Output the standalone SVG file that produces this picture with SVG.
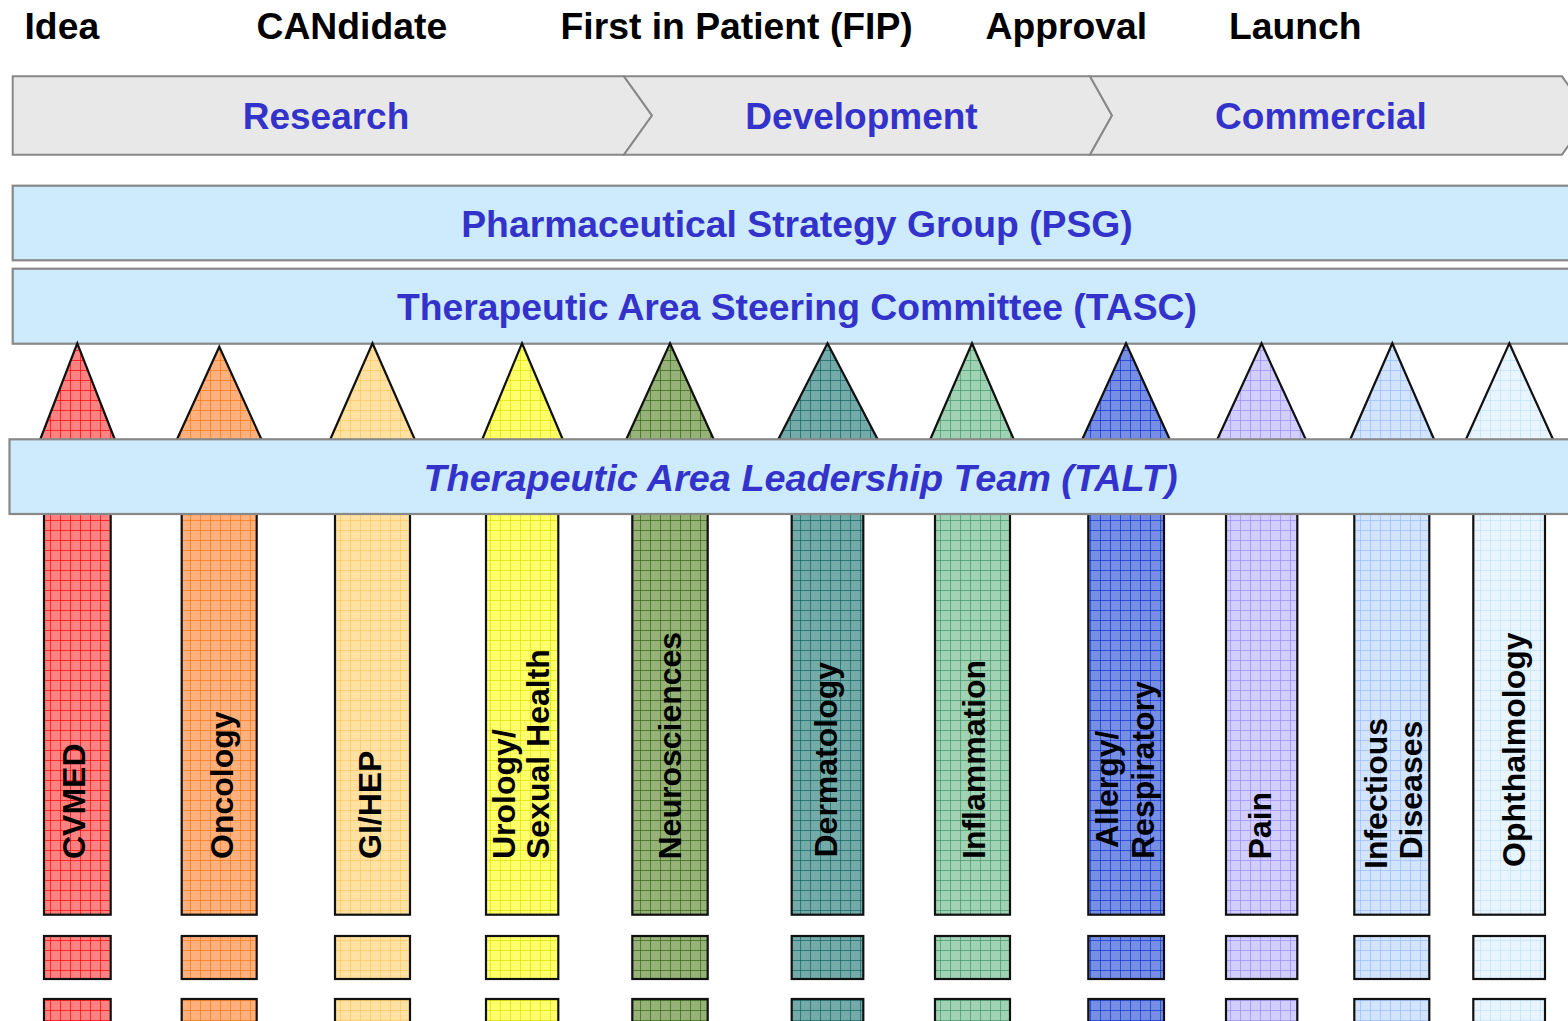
<svg xmlns="http://www.w3.org/2000/svg" width="1568" height="1021" viewBox="0 0 1568 1021">
<style>
.top{font-family:"Liberation Sans",Arial,sans-serif;font-weight:bold;font-size:37.3px;fill:#000}
.phase{font-family:"Liberation Sans",Arial,sans-serif;font-weight:bold;font-size:37px;fill:#3333cc;text-anchor:middle}
.band{font-family:"Liberation Sans",Arial,sans-serif;font-weight:bold;font-size:37.3px;fill:#3333cc;text-anchor:middle}
.talt{font-style:italic;font-size:37.8px}
.chev{fill:#e8e8e8;stroke:#888;stroke-width:2}
.box{fill:#cdebfc;stroke:#888;stroke-width:2.2}
.cr{stroke:#111;stroke-width:2.2}
.lbl{font-family:"Liberation Sans",Arial,sans-serif;font-weight:bold;font-size:32px;fill:#000}
.gl{stroke-width:1;stroke-opacity:0.7;fill:none}
</style>
<defs>
<pattern id="p1" width="10" height="10" patternUnits="userSpaceOnUse"><rect width="10" height="10" fill="#ff8282"/><path class="gl" d="M0 0.5H10M0.5 0V10" stroke="#ff0000"/></pattern>
<pattern id="p2" width="10" height="10" patternUnits="userSpaceOnUse"><rect width="10" height="10" fill="#ffb07c"/><path class="gl" d="M0 0.5H10M0.5 0V10" stroke="#ff7a10"/></pattern>
<pattern id="p3" width="10" height="10" patternUnits="userSpaceOnUse"><rect width="10" height="10" fill="#ffe1a4"/><path class="gl" d="M0 0.5H10M0.5 0V10" stroke="#ffc65a"/></pattern>
<pattern id="p4" width="10" height="10" patternUnits="userSpaceOnUse"><rect width="10" height="10" fill="#ffff6c"/><path class="gl" d="M0 0.5H10M0.5 0V10" stroke="#e0e000"/></pattern>
<pattern id="p5" width="10" height="10" patternUnits="userSpaceOnUse"><rect width="10" height="10" fill="#96b278"/><path class="gl" d="M0 0.5H10M0.5 0V10" stroke="#336614"/></pattern>
<pattern id="p6" width="10" height="10" patternUnits="userSpaceOnUse"><rect width="10" height="10" fill="#74aaa7"/><path class="gl" d="M0 0.5H10M0.5 0V10" stroke="#126666"/></pattern>
<pattern id="p7" width="10" height="10" patternUnits="userSpaceOnUse"><rect width="10" height="10" fill="#a2d2b4"/><path class="gl" d="M0 0.5H10M0.5 0V10" stroke="#40986c"/></pattern>
<pattern id="p8" width="10" height="10" patternUnits="userSpaceOnUse"><rect width="10" height="10" fill="#768ee4"/><path class="gl" d="M0 0.5H10M0.5 0V10" stroke="#1034d2"/></pattern>
<pattern id="p9" width="10" height="10" patternUnits="userSpaceOnUse"><rect width="10" height="10" fill="#d2ceff"/><path class="gl" d="M0 0.5H10M0.5 0V10" stroke="#9c8eff"/></pattern>
<pattern id="p10" width="10" height="10" patternUnits="userSpaceOnUse"><rect width="10" height="10" fill="#d2e4ff"/><path class="gl" d="M0 0.5H10M0.5 0V10" stroke="#98bcff"/></pattern>
<pattern id="p11" width="10" height="10" patternUnits="userSpaceOnUse"><rect width="10" height="10" fill="#e8f5ff"/><path class="gl" d="M0 0.5H10M0.5 0V10" stroke="#c0e2fa"/></pattern>
</defs>
<rect width="1568" height="1021" fill="#fff"/>

<g id="milestones">
<text class="top" x="24.5" y="39">Idea</text>
<text class="top" x="256.5" y="39">CANdidate</text>
<text class="top" x="560.5" y="39">First in Patient (FIP)</text>
<text class="top" x="985.5" y="39">Approval</text>
<text class="top" x="1229" y="39">Launch</text>
</g>

<g id="phase-research">
<polygon class="chev" points="12.7,76.3 624,76.3 652,115.5 624,154.7 12.7,154.7"/>
<text class="phase" x="326" y="129">Research</text>
</g>
<g id="phase-development">
<polygon class="chev" points="624,76.3 1090,76.3 1112,115.5 1090,154.7 624,154.7 652,115.5"/>
<text class="phase" x="861.5" y="129">Development</text>
</g>
<g id="phase-commercial">
<polygon class="chev" points="1090,76.3 1562,76.3 1590,115.5 1562,154.7 1090,154.7 1112,115.5"/>
<text class="phase" x="1321" y="129">Commercial</text>
</g>

<g id="psg">
<rect class="box" x="12.7" y="185.7" width="1570" height="74.6"/>
<text class="band" x="797" y="237">Pharmaceutical Strategy Group (PSG)</text>
</g>
<g id="tasc">
<rect class="box" x="12.7" y="268.7" width="1570" height="75"/>
<text class="band" x="797" y="320">Therapeutic Area Steering Committee (TASC)</text>
</g>

<g id="crayon-cvmed">
<polygon class="cr" fill="url(#p1)" points="77.3,343.3 115,440 40,440"/>
<rect class="cr" fill="url(#p1)" x="44" y="505" width="66.7" height="409.7"/>
<text class="lbl" transform="translate(85,859) rotate(-90)">CVMED</text>
<rect class="cr" fill="url(#p1)" x="44" y="936" width="66.7" height="43"/>
<rect class="cr" fill="url(#p1)" x="44" y="999" width="66.7" height="40"/>
</g>
<g id="crayon-oncology">
<polygon class="cr" fill="url(#p2)" points="219.3,346.7 261.7,440 176.7,440"/>
<rect class="cr" fill="url(#p2)" x="181.7" y="505" width="75" height="409.7"/>
<text class="lbl" transform="translate(232.5,859) rotate(-90)">Oncology</text>
<rect class="cr" fill="url(#p2)" x="181.7" y="936" width="75" height="43"/>
<rect class="cr" fill="url(#p2)" x="181.7" y="999" width="75" height="40"/>
</g>
<g id="crayon-gihep">
<polygon class="cr" fill="url(#p3)" points="372.5,343.3 415,440 330,440"/>
<rect class="cr" fill="url(#p3)" x="335" y="505" width="75" height="409.7"/>
<text class="lbl" transform="translate(381,859) rotate(-90)">GI/HEP</text>
<rect class="cr" fill="url(#p3)" x="335" y="936" width="75" height="43"/>
<rect class="cr" fill="url(#p3)" x="335" y="999" width="75" height="40"/>
</g>
<g id="crayon-urology">
<polygon class="cr" fill="url(#p4)" points="522,343.3 563,440 482,440"/>
<rect class="cr" fill="url(#p4)" x="486" y="505" width="72.3" height="409.7"/>
<text class="lbl" transform="translate(515,859) rotate(-90)">Urology/</text>
<text class="lbl" transform="translate(549.3,859) rotate(-90)">Sexual Health</text>
<rect class="cr" fill="url(#p4)" x="486" y="936" width="72.3" height="43"/>
<rect class="cr" fill="url(#p4)" x="486" y="999" width="72.3" height="40"/>
</g>
<g id="crayon-neurosciences">
<polygon class="cr" fill="url(#p5)" points="670,343.3 714,440 626,440"/>
<rect class="cr" fill="url(#p5)" x="632.3" y="505" width="75.4" height="409.7"/>
<text class="lbl" transform="translate(680.7,859.5) rotate(-90)">Neurosciences</text>
<rect class="cr" fill="url(#p5)" x="632.3" y="936" width="75.4" height="43"/>
<rect class="cr" fill="url(#p5)" x="632.3" y="999" width="75.4" height="40"/>
</g>
<g id="crayon-dermatology">
<polygon class="cr" fill="url(#p6)" points="827.5,343.3 878,440 778,440"/>
<rect class="cr" fill="url(#p6)" x="791.7" y="505" width="71.6" height="409.7"/>
<text class="lbl" transform="translate(836.5,857.5) rotate(-90)">Dermatology</text>
<rect class="cr" fill="url(#p6)" x="791.7" y="936" width="71.6" height="43"/>
<rect class="cr" fill="url(#p6)" x="791.7" y="999" width="71.6" height="40"/>
</g>
<g id="crayon-inflammation">
<polygon class="cr" fill="url(#p7)" points="972,343.3 1014,440 930,440"/>
<rect class="cr" fill="url(#p7)" x="935" y="505" width="75" height="409.7"/>
<text class="lbl" transform="translate(985,859) rotate(-90)">Inflammation</text>
<rect class="cr" fill="url(#p7)" x="935" y="936" width="75" height="43"/>
<rect class="cr" fill="url(#p7)" x="935" y="999" width="75" height="40"/>
</g>
<g id="crayon-allergy">
<polygon class="cr" fill="url(#p8)" points="1126,343.3 1170,440 1082,440"/>
<rect class="cr" fill="url(#p8)" x="1088.3" y="505" width="75.7" height="409.7"/>
<text class="lbl" transform="translate(1118.3,848) rotate(-90)">Allergy/</text>
<text class="lbl" transform="translate(1154,859) rotate(-90)">Respiratory</text>
<rect class="cr" fill="url(#p8)" x="1088.3" y="936" width="75.7" height="43"/>
<rect class="cr" fill="url(#p8)" x="1088.3" y="999" width="75.7" height="40"/>
</g>
<g id="crayon-pain">
<polygon class="cr" fill="url(#p9)" points="1261.5,343.3 1306,440 1217,440"/>
<rect class="cr" fill="url(#p9)" x="1226" y="505" width="71.3" height="409.7"/>
<text class="lbl" transform="translate(1271,859.5) rotate(-90)">Pain</text>
<rect class="cr" fill="url(#p9)" x="1226" y="936" width="71.3" height="43"/>
<rect class="cr" fill="url(#p9)" x="1226" y="999" width="71.3" height="40"/>
</g>
<g id="crayon-infectious">
<polygon class="cr" fill="url(#p10)" points="1392.3,343.3 1434.3,440 1350,440"/>
<rect class="cr" fill="url(#p10)" x="1354.3" y="505" width="75" height="409.7"/>
<text class="lbl" transform="translate(1387.3,869) rotate(-90)">Infectious</text>
<text class="lbl" transform="translate(1421.7,859.5) rotate(-90)">Diseases</text>
<rect class="cr" fill="url(#p10)" x="1354.3" y="936" width="75" height="43"/>
<rect class="cr" fill="url(#p10)" x="1354.3" y="999" width="75" height="40"/>
</g>
<g id="crayon-ophthalmology">
<polygon class="cr" fill="url(#p11)" points="1509.3,343.3 1553.3,440 1465.7,440"/>
<rect class="cr" fill="url(#p11)" x="1473.3" y="505" width="71.7" height="409.7"/>
<text class="lbl" transform="translate(1525,867) rotate(-90)">Ophthalmology</text>
<rect class="cr" fill="url(#p11)" x="1473.3" y="936" width="71.7" height="43"/>
<rect class="cr" fill="url(#p11)" x="1473.3" y="999" width="71.7" height="40"/>
</g>

<g id="talt">
<rect class="box" x="9.5" y="439.3" width="1575" height="74.7"/>
<text class="band talt" x="800.5" y="491">Therapeutic Area Leadership Team (TALT)</text>
</g>
</svg>
